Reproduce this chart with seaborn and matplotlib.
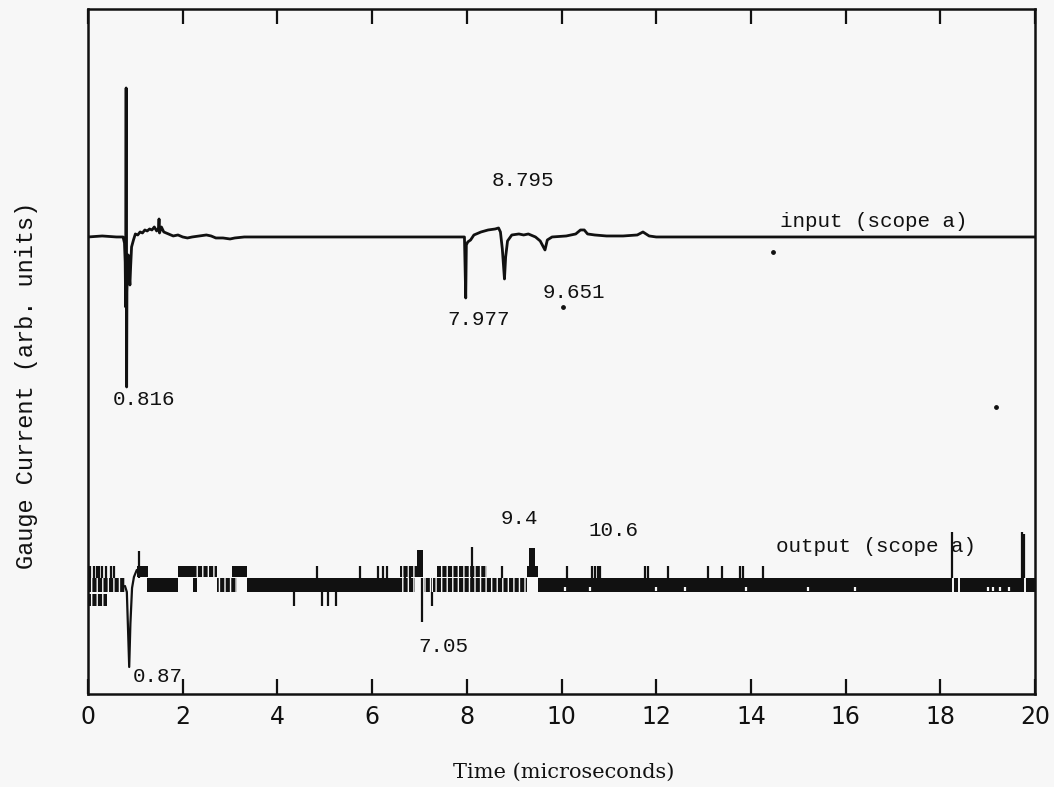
import matplotlib
matplotlib.use("Agg")
import matplotlib.pyplot as plt
import pandas as pd
import seaborn as sns

# ---------------- input gauge (scope a) ----------------
# time in microseconds, deviation from the trace baseline (arb. units)
input_time = [0.00, 0.30, 0.60, 0.74, 0.77, 0.785, 0.795, 0.805, 0.810, 0.816,
              0.822, 0.835, 0.850, 0.870, 0.885, 0.90, 0.92, 0.96, 1.00, 1.05,
              1.10, 1.15, 1.20, 1.25, 1.30, 1.35, 1.40, 1.45, 1.49, 1.50,
              1.51, 1.55, 1.60, 1.70, 1.80, 1.90, 2.00, 2.10, 2.20, 2.35,
              2.50, 2.60, 2.70, 2.85, 3.00, 3.10, 3.30, 7.95, 7.977, 7.99,
              8.02, 8.08, 8.15, 8.30, 8.45, 8.60, 8.67, 8.71, 8.75, 8.795,
              8.82, 8.86, 8.95, 9.10, 9.20, 9.30, 9.45, 9.55, 9.651, 9.70,
              9.80, 10.10, 10.30, 10.40, 10.48, 10.55, 10.70, 10.95, 11.30, 11.60,
              11.72, 11.85, 12.00, 20.00]
input_dev = [0.00, 0.01, 0.00, 0.00, -0.06, -0.25, -0.70, 1.49, -0.10, -1.50,
             -0.55, -0.30, -0.18, -0.38, -0.48, -0.30, -0.10, -0.03, 0.03, 0.02,
             0.05, 0.04, 0.07, 0.06, 0.08, 0.07, 0.10, 0.06, 0.09, 0.18,
             0.04, 0.10, 0.05, 0.03, 0.01, 0.02, 0.00, -0.01, 0.00, 0.01,
             0.02, 0.01, -0.01, -0.01, -0.02, -0.01, 0.00, 0.00, -0.61, -0.08,
             -0.05, -0.03, 0.02, 0.05, 0.07, 0.08, 0.09, 0.05, -0.12, -0.42,
             -0.20, -0.04, 0.02, 0.03, 0.02, 0.03, 0.00, -0.04, -0.13, -0.03,
             0.00, 0.01, 0.03, 0.07, 0.07, 0.03, 0.02, 0.01, 0.01, 0.02,
             0.05, 0.01, 0.00, 0.00]
input_base = 4.57

# ---------------- output gauge (scope a) ----------------
# digitiser levels of the output record (arb. units)
level_low = (0.88, 1.00)
level_mid = (1.02, 1.16)
level_high = (1.17, 1.28)

# time spans (µs) where the record sits on a level continuously
mid_solid = [(1.24, 1.90), (2.22, 2.30), (3.35, 6.59), (9.50, 20.0)]
high_solid = [(1.03, 1.27), (1.90, 2.26), (3.04, 3.35), (6.94, 7.07), (9.27, 9.50)]
# time spans where the record toggles rapidly on a level
mid_toggle = [(0.00, 0.78), (2.72, 3.14), (6.59, 6.91), (7.10, 7.26), (7.29, 9.27)]
high_toggle = [(2.26, 2.72), (6.59, 6.94), (7.36, 8.42)]
low_toggle = [(0.00, 0.40)]

# short excursions: up to the high level / down to the low level
high_ticks = [0.05, 0.12, 0.18, 0.24, 0.30, 0.38, 0.48, 0.55, 4.83, 5.74,
              6.13, 6.22, 6.31, 6.70, 6.80, 8.74, 10.11, 10.64, 10.70, 10.76,
              10.81, 11.76, 11.83, 12.25, 13.09, 13.39, 13.77, 13.84, 14.26]
low_ticks = [4.34, 4.94, 5.07, 5.24, 7.26]

# blocks above the high level (start, end, top)
burst_start = [6.94, 9.32]
burst_end = [7.07, 9.45]
burst_top = [1.44, 1.46]

# isolated spikes (time, peak)
spike_time = [1.08, 8.12, 18.25, 19.72, 19.76, 7.05]
spike_peak = [1.43, 1.47, 1.62, 1.62, 1.60, 0.72]

# dropouts inside the mid level
dropout_full = [18.27, 18.40, 19.79]
dropout_small = [10.08, 10.60, 12.00, 12.60, 13.90, 15.20, 16.20, 19.00, 19.12, 19.25, 19.45]

# the dip at 0.87 µs
dip_time = [0.78, 0.82, 0.845, 0.87, 0.895, 0.93, 0.97, 1.03]
dip_val = [1.08, 1.02, 0.65, 0.27, 0.70, 1.06, 1.17, 1.24]

# stray specks on the record sheet (time, value)
speck_time = [14.47, 19.18, 10.03]
speck_val = [4.42, 2.87, 3.87]

# value labels on the traces
notes = [
    ("0.816", 0.53, 2.94), ("8.795", 8.53, 5.13), ("7.977", 7.58, 3.74),
    ("9.651", 9.61, 4.01), ("input (scope a)", 14.61, 4.72),
    ("0.87", 0.95, 0.17), ("7.05", 6.97, 0.47), ("9.4", 8.72, 1.75),
    ("10.6", 10.56, 1.63), ("output (scope a)", 14.53, 1.47),
]

x_ticks = [0, 2, 4, 6, 8, 10, 12, 14, 16, 18, 20]

BG = "#f7f7f7"
INK = "#111111"

sns.set_theme(style="white")
plt.rcParams["font.family"] = ["DejaVu Sans"]
plt.rcParams["hatch.linewidth"] = 1.0

fig = plt.figure(figsize=(10.54, 7.87), dpi=100, facecolor=BG)
ax = fig.add_axes([0.0835, 0.1182, 0.8985, 0.8704], facecolor=BG)

# input trace
df_in = pd.DataFrame({"t": input_time, "v": [input_base + d for d in input_dev]})
sns.lineplot(data=df_in, x="t", y="v", ax=ax, color=INK, lw=2.0,
             estimator=None, sort=False)

# output trace: levels
def fill_spans(spans, lo_hi, toggled):
    lo, hi = lo_hi
    for a, b in spans:
        ax.fill_between([a, b], lo, hi, facecolor=INK,
                        edgecolor=BG if toggled else "none",
                        hatch="|||" if toggled else None, linewidth=0)

fill_spans(mid_solid, level_mid, False)
fill_spans(high_solid, level_high, False)
fill_spans(mid_toggle, level_mid, True)
fill_spans(high_toggle, level_high, True)
fill_spans(low_toggle, level_low, True)

ax.vlines(high_ticks, level_mid[1], level_high[1], color=INK, lw=1.6)
ax.vlines(low_ticks, level_low[0], level_mid[0], color=INK, lw=1.6)
for a, b, top in zip(burst_start, burst_end, burst_top):
    ax.fill_between([a, b], level_high[1], top, facecolor=INK, linewidth=0)
ax.vlines(spike_time, level_mid[1], spike_peak, color=INK, lw=1.6)
ax.vlines(dropout_full, level_mid[0], level_mid[1], color=BG, lw=1.4)
ax.vlines(dropout_small, level_mid[0] + 0.01, level_mid[0] + 0.05, color=BG, lw=1.6)

df_dip = pd.DataFrame({"t": dip_time, "v": dip_val})
sns.lineplot(data=df_dip, x="t", y="v", ax=ax, color=INK, lw=1.6,
             estimator=None, sort=False)

ax.scatter(speck_time, speck_val, s=6, color=INK, zorder=3)

for txt, tx, ty in notes:
    ax.text(tx, ty, txt, ha="left", va="center", fontsize=15,
            family=["Liberation Mono", "DejaVu Sans Mono"], color=INK)

ax.set_xlim(0, 20)
ax.set_ylim(0, 6.85)
ax.set_xticks(x_ticks)
ax.set_xticklabels([str(v) for v in x_ticks],
                   family=["DejaVu Sans"], fontsize=17)
ax.set_yticks([])
ax.tick_params(axis="x", direction="in", length=11, width=1.6, pad=8,
               top=True, bottom=True, colors=INK)
for s in ax.spines.values():
    s.set_color(INK)
    s.set_linewidth(1.8)
ax.set_xlabel("")
ax.set_ylabel("")

fig.text(0.535, 0.019, "Time (microseconds)", ha="center", va="center",
         fontsize=15, family=["DejaVu Serif"], color=INK)
fig.text(0.0256, 0.51, "Gauge Current (arb. units)", ha="center", va="center",
         rotation=90, fontsize=17, family=["Liberation Mono", "DejaVu Sans Mono"],
         color=INK)

fig.savefig("out.png", dpi=100, facecolor=BG)
